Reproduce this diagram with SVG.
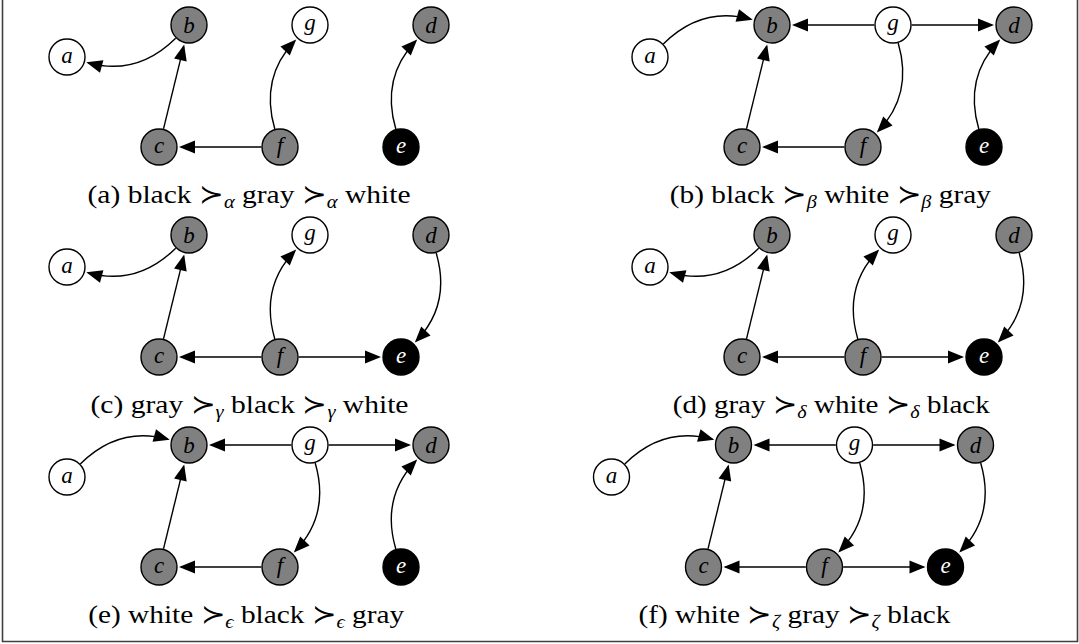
<svg xmlns="http://www.w3.org/2000/svg" width="1079" height="644" viewBox="0 0 1079 644">
<style>
.nd{stroke:#000;stroke-width:1.4}
.w{fill:#fff}.gr{fill:#808080}.bk{fill:#000}
.lbl{font-family:"Liberation Serif","DejaVu Serif",serif;font-style:italic;font-size:23px;text-anchor:middle;fill:#000}
.inv{fill:#fff}
.edge{fill:none;stroke:#000;stroke-width:1.4;marker-end:url(#arr)}
.cap{font-family:"Liberation Serif","DejaVu Serif",serif;font-size:26px;text-anchor:middle;fill:#000}
.sub{font-style:italic;font-size:18px}
.frame{fill:none;stroke:#404040;stroke-width:1.6}
</style>
<defs>
<marker id="arr" markerUnits="userSpaceOnUse" markerWidth="16" markerHeight="13" refX="14" refY="6.5" orient="auto" overflow="visible">
<path d="M0,0 L16,6.5 L0,13 z" fill="#000"/>
</marker>
</defs>
<rect width="1079" height="644" fill="#fff"/>
<path class="frame" d="M2.5,0 V641.5 H1077.5 V0"/>

<!-- Panel (a) -->
<g id="panel-a">
<g id="pa-edges">
<path class="edge" d="M175.7,38.2 C149.9,63.7 121.3,71.9 88.2,62.8"/>
<path class="edge" d="M163.5,128.8 L183.7,46.4"/>
<path class="edge" d="M261.3,147 L181,147"/>
<path class="edge" d="M274.8,129.0 C264.7,94.4 271.2,65.5 294.8,40.9"/>
<path class="edge" d="M395.8,129.0 C385.7,94.4 392.2,65.5 415.8,40.9"/>
</g>
<g id="pa-a"><circle class="nd w" cx="67" cy="57" r="18"/><text class="lbl" x="67" y="63">a</text></g>
<g id="pa-b"><circle class="nd gr" cx="189" cy="25" r="18"/><text class="lbl" x="189" y="33">b</text></g>
<g id="pa-g"><circle class="nd w" cx="310" cy="25" r="18"/><text class="lbl" x="310" y="30">g</text></g>
<g id="pa-d"><circle class="nd gr" cx="431" cy="25" r="18"/><text class="lbl" x="431" y="33">d</text></g>
<g id="pa-c"><circle class="nd gr" cx="159" cy="147" r="18"/><text class="lbl" x="159" y="153">c</text></g>
<g id="pa-f"><circle class="nd gr" cx="280" cy="147" r="18"/><text class="lbl" x="280" y="153">f</text></g>
<g id="pa-e"><circle class="nd bk" cx="401" cy="147" r="18"/><text class="lbl inv" x="401" y="153">e</text></g>
<text class="cap" x="249" y="202.5" textLength="323" lengthAdjust="spacingAndGlyphs">(a) black ≻<tspan class="sub" dy="5">α</tspan><tspan dy="-5"> gray ≻</tspan><tspan class="sub" dy="5">α</tspan><tspan dy="-5"> white</tspan></text>
</g>

<!-- Panel (b) -->
<g id="panel-b" transform="translate(583,0)">
<g id="pb-edges">
<path class="edge" d="M80.3,43.9 C106.1,18.3 134.7,10.1 167.8,19.2"/>
<path class="edge" d="M163.5,128.8 L183.7,46.4"/>
<path class="edge" d="M291.3,25 L211,25"/>
<path class="edge" d="M328.7,25 L409,25"/>
<path class="edge" d="M315.2,43.0 C325.3,77.6 318.8,106.5 295.2,131.1"/>
<path class="edge" d="M261.3,147 L181,147"/>
<path class="edge" d="M395.8,129.0 C385.7,94.4 392.2,65.5 415.8,40.9"/>
</g>
<g id="pb-a"><circle class="nd w" cx="67" cy="57" r="18"/><text class="lbl" x="67" y="63">a</text></g>
<g id="pb-b"><circle class="nd gr" cx="189" cy="25" r="18"/><text class="lbl" x="189" y="33">b</text></g>
<g id="pb-g"><circle class="nd w" cx="310" cy="25" r="18"/><text class="lbl" x="310" y="30">g</text></g>
<g id="pb-d"><circle class="nd gr" cx="431" cy="25" r="18"/><text class="lbl" x="431" y="33">d</text></g>
<g id="pb-c"><circle class="nd gr" cx="159" cy="147" r="18"/><text class="lbl" x="159" y="153">c</text></g>
<g id="pb-f"><circle class="nd gr" cx="280" cy="147" r="18"/><text class="lbl" x="280" y="153">f</text></g>
<g id="pb-e"><circle class="nd bk" cx="401" cy="147" r="18"/><text class="lbl inv" x="401" y="153">e</text></g>
<text class="cap" x="247.3" y="202.5" textLength="321" lengthAdjust="spacingAndGlyphs">(b) black ≻<tspan class="sub" dy="5">β</tspan><tspan dy="-5"> white ≻</tspan><tspan class="sub" dy="5">β</tspan><tspan dy="-5"> gray</tspan></text>
</g>

<!-- Panel (c) -->
<g id="panel-c" transform="translate(0,210)">
<g id="pc-edges">
<path class="edge" d="M175.7,38.2 C149.9,63.7 121.3,71.9 88.2,62.8"/>
<path class="edge" d="M163.5,128.8 L183.7,46.4"/>
<path class="edge" d="M274.8,129.0 C264.7,94.4 271.2,65.5 294.8,40.9"/>
<path class="edge" d="M261.3,147 L181,147"/>
<path class="edge" d="M298.7,147 L379,147"/>
<path class="edge" d="M436.2,43.0 C446.3,77.6 439.8,106.5 416.2,131.1"/>
</g>
<g id="pc-a"><circle class="nd w" cx="67" cy="57" r="18"/><text class="lbl" x="67" y="63">a</text></g>
<g id="pc-b"><circle class="nd gr" cx="189" cy="25" r="18"/><text class="lbl" x="189" y="33">b</text></g>
<g id="pc-g"><circle class="nd w" cx="310" cy="25" r="18"/><text class="lbl" x="310" y="30">g</text></g>
<g id="pc-d"><circle class="nd gr" cx="431" cy="25" r="18"/><text class="lbl" x="431" y="33">d</text></g>
<g id="pc-c"><circle class="nd gr" cx="159" cy="147" r="18"/><text class="lbl" x="159" y="153">c</text></g>
<g id="pc-f"><circle class="nd gr" cx="280" cy="147" r="18"/><text class="lbl" x="280" y="153">f</text></g>
<g id="pc-e"><circle class="nd bk" cx="401" cy="147" r="18"/><text class="lbl inv" x="401" y="153">e</text></g>
<text class="cap" x="249.5" y="202.5" textLength="318" lengthAdjust="spacingAndGlyphs">(c) gray ≻<tspan class="sub" dy="5">γ</tspan><tspan dy="-5"> black ≻</tspan><tspan class="sub" dy="5">γ</tspan><tspan dy="-5"> white</tspan></text>
</g>

<!-- Panel (d) -->
<g id="panel-d" transform="translate(583,210)">
<g id="pd-edges">
<path class="edge" d="M175.7,38.2 C149.9,63.7 121.3,71.9 88.2,62.8"/>
<path class="edge" d="M163.5,128.8 L183.7,46.4"/>
<path class="edge" d="M274.8,129.0 C264.7,94.4 271.2,65.5 294.8,40.9"/>
<path class="edge" d="M261.3,147 L181,147"/>
<path class="edge" d="M298.7,147 L379,147"/>
<path class="edge" d="M436.2,43.0 C446.3,77.6 439.8,106.5 416.2,131.1"/>
</g>
<g id="pd-a"><circle class="nd w" cx="67" cy="57" r="18"/><text class="lbl" x="67" y="63">a</text></g>
<g id="pd-b"><circle class="nd gr" cx="189" cy="25" r="18"/><text class="lbl" x="189" y="33">b</text></g>
<g id="pd-g"><circle class="nd w" cx="310" cy="25" r="18"/><text class="lbl" x="310" y="30">g</text></g>
<g id="pd-d"><circle class="nd gr" cx="431" cy="25" r="18"/><text class="lbl" x="431" y="33">d</text></g>
<g id="pd-c"><circle class="nd gr" cx="159" cy="147" r="18"/><text class="lbl" x="159" y="153">c</text></g>
<g id="pd-f"><circle class="nd gr" cx="280" cy="147" r="18"/><text class="lbl" x="280" y="153">f</text></g>
<g id="pd-e"><circle class="nd bk" cx="401" cy="147" r="18"/><text class="lbl inv" x="401" y="153">e</text></g>
<text class="cap" x="248.3" y="202.5" textLength="317" lengthAdjust="spacingAndGlyphs">(d) gray ≻<tspan class="sub" dy="5">δ</tspan><tspan dy="-5"> white ≻</tspan><tspan class="sub" dy="5">δ</tspan><tspan dy="-5"> black</tspan></text>
</g>

<!-- Panel (e) -->
<g id="panel-e" transform="translate(0,420)">
<g id="pe-edges">
<path class="edge" d="M80.3,43.9 C106.1,18.3 134.7,10.1 167.8,19.2"/>
<path class="edge" d="M163.5,128.8 L183.7,46.4"/>
<path class="edge" d="M291.3,25 L211,25"/>
<path class="edge" d="M328.7,25 L409,25"/>
<path class="edge" d="M315.2,43.0 C325.3,77.6 318.8,106.5 295.2,131.1"/>
<path class="edge" d="M261.3,147 L181,147"/>
<path class="edge" d="M395.8,129.0 C385.7,94.4 392.2,65.5 415.8,40.9"/>
</g>
<g id="pe-a"><circle class="nd w" cx="67" cy="57" r="18"/><text class="lbl" x="67" y="63">a</text></g>
<g id="pe-b"><circle class="nd gr" cx="189" cy="25" r="18"/><text class="lbl" x="189" y="33">b</text></g>
<g id="pe-g"><circle class="nd w" cx="310" cy="25" r="18"/><text class="lbl" x="310" y="30">g</text></g>
<g id="pe-d"><circle class="nd gr" cx="431" cy="25" r="18"/><text class="lbl" x="431" y="33">d</text></g>
<g id="pe-c"><circle class="nd gr" cx="159" cy="147" r="18"/><text class="lbl" x="159" y="153">c</text></g>
<g id="pe-f"><circle class="nd gr" cx="280" cy="147" r="18"/><text class="lbl" x="280" y="153">f</text></g>
<g id="pe-e"><circle class="nd bk" cx="401" cy="147" r="18"/><text class="lbl inv" x="401" y="153">e</text></g>
<text class="cap" x="246.2" y="202.5" textLength="316" lengthAdjust="spacingAndGlyphs">(e) white ≻<tspan class="sub" dy="5">ϵ</tspan><tspan dy="-5"> black ≻</tspan><tspan class="sub" dy="5">ϵ</tspan><tspan dy="-5"> gray</tspan></text>
</g>

<!-- Panel (f) -->
<g id="panel-f" transform="translate(544.5,420)">
<g id="pf-edges">
<path class="edge" d="M80.3,43.9 C106.1,18.3 134.7,10.1 167.8,19.2"/>
<path class="edge" d="M163.5,128.8 L183.7,46.4"/>
<path class="edge" d="M291.3,25 L211,25"/>
<path class="edge" d="M328.7,25 L409,25"/>
<path class="edge" d="M315.2,43.0 C325.3,77.6 318.8,106.5 295.2,131.1"/>
<path class="edge" d="M261.3,147 L181,147"/>
<path class="edge" d="M298.7,147 L379,147"/>
<path class="edge" d="M436.2,43.0 C446.3,77.6 439.8,106.5 416.2,131.1"/>
</g>
<g id="pf-a"><circle class="nd w" cx="67" cy="57" r="18"/><text class="lbl" x="67" y="63">a</text></g>
<g id="pf-b"><circle class="nd gr" cx="189" cy="25" r="18"/><text class="lbl" x="189" y="33">b</text></g>
<g id="pf-g"><circle class="nd w" cx="310" cy="25" r="18"/><text class="lbl" x="310" y="30">g</text></g>
<g id="pf-d"><circle class="nd gr" cx="431" cy="25" r="18"/><text class="lbl" x="431" y="33">d</text></g>
<g id="pf-c"><circle class="nd gr" cx="159" cy="147" r="18"/><text class="lbl" x="159" y="153">c</text></g>
<g id="pf-f"><circle class="nd gr" cx="280" cy="147" r="18"/><text class="lbl" x="280" y="153">f</text></g>
<g id="pf-e"><circle class="nd bk" cx="401" cy="147" r="18"/><text class="lbl inv" x="401" y="153">e</text></g>
<text class="cap" x="250" y="202.5" textLength="312" lengthAdjust="spacingAndGlyphs">(f) white ≻<tspan class="sub" dy="5">ζ</tspan><tspan dy="-5"> gray ≻</tspan><tspan class="sub" dy="5">ζ</tspan><tspan dy="-5"> black</tspan></text>
</g>
</svg>
